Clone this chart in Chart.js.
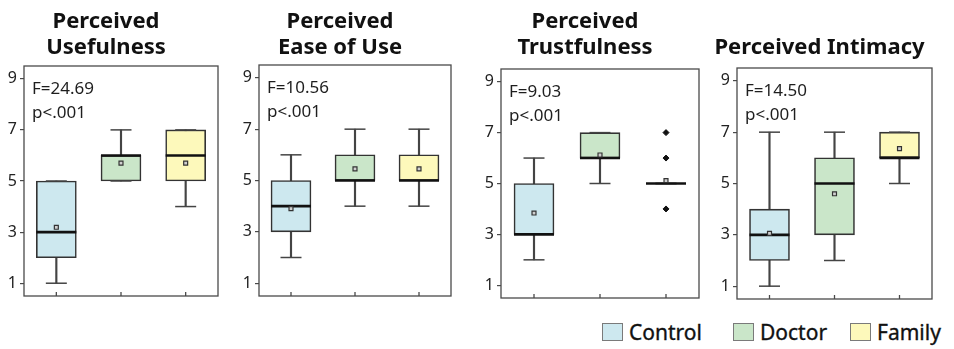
<!DOCTYPE html>
<html>
<head>
<meta charset="utf-8">
<script src="https://cdn.jsdelivr.net/npm/chart.js@4.4.1/dist/chart.umd.min.js"></script>
<style>
  body { margin: 0; background: #fff; width: 954px; height: 349px; position: relative; overflow: hidden; font-family: "Noto Sans", sans-serif; }
  .panel { position: absolute; top: 0; }
  .legend-item { position: absolute; top: 318px; display: flex; align-items: center; font-size: 21px; color: #111; -webkit-text-stroke: 0.35px #111; }
  .legend-item .sw { display: inline-block; width: 19px; height: 16px; border: 1px solid #7a7a7a; margin-right: 6px; }
</style>
</head>
<body>

<script>
// groups and panels
const groups = ['Control', 'Doctor', 'Family'];
const panelTitles = [['Perceived', 'Usefulness'], ['Perceived', 'Ease of Use'], ['Perceived', 'Trustfulness'], ['Perceived Intimacy']];
const fStats = ['F=24.69', 'F=10.56', 'F=9.03', 'F=14.50'];
const pStats = ['p<.001', 'p<.001', 'p<.001', 'p<.001'];
const yTicks = [1, 3, 5, 7, 9];

// box stats, one row per panel: [Control, Doctor, Family]
const mins    = [[1, 5, 4], [2, 4, 4], [2, 5, 5], [1, 2, 5]];
const q1s     = [[2, 5, 5], [3, 5, 5], [3, 6, 5], [2, 3, 6]];
const medians = [[3, 6, 6], [4, 5, 5], [3, 6, 5], [3, 5, 6]];
const q3s     = [[5, 6, 7], [5, 6, 6], [5, 7, 5], [4, 6, 7]];
const maxs    = [[5, 7, 7], [6, 7, 7], [6, 7, 5], [7, 7, 7]];
const means   = [[3.19, 5.7, 5.7], [3.9, 5.45, 5.45], [3.84, 6.12, 5.11], [3.06, 4.6, 6.36]];

// outliers (only Trustfulness / Family)
const outlierGroups = [[], [], ['Family', 'Family', 'Family'], []];
const outlierValues = [[], [], [4, 6, 7], []];

const boxColors = ['#cde8ef', '#cae6c9', '#fdf9bb'];
// frame of each plot area in page pixels
const frames = [
  { l: 24,  r: 218, t: 66, b: 296 },
  { l: 259, r: 451, t: 65, b: 296 },
  { l: 501, r: 699, t: 69, b: 298 },
  { l: 737, r: 932, t: 68, b: 299 },
];
const legendX = [602, 733, 850];

Chart.defaults.font.family = '"Noto Sans", sans-serif';

const framePlugin = {
  id: 'frame',
  afterDatasetsDraw(chart, args, opts) {
    const { ctx, chartArea: a, scales: { x } } = chart;
    ctx.save();
    ctx.strokeStyle = '#4a4a4a';
    ctx.lineWidth = 1.3;
    ctx.strokeRect(a.left, a.top, a.right - a.left, a.bottom - a.top);
    groups.forEach((g, j) => {
      const px = x.getPixelForValue(j);
      ctx.beginPath();
      ctx.moveTo(px, a.bottom);
      ctx.lineTo(px, a.bottom - 4);
      ctx.stroke();
    });
    ctx.font = '17px "Noto Sans"';
    ctx.fillStyle = '#1e1e1e';
    ctx.fillText(opts.f, a.left + 8, a.top + 28);
    ctx.fillText(opts.p, a.left + 8, a.top + 52);
    ctx.restore();
  }
};

panelTitles.forEach((title, i) => {
  const f = frames[i];
  const wrap = document.createElement('div');
  wrap.className = 'panel';
  wrap.style.left = (f.l - 30) + 'px';
  const canvas = document.createElement('canvas');
  canvas.width = f.r - f.l + 32;
  canvas.height = f.b + 2;
  wrap.appendChild(canvas);
  document.body.appendChild(wrap);

  const pointLine = (data, radius, color, width, order) => ({
    type: 'line', data, showLine: false, order,
    pointStyle: 'line', pointRadius: radius,
    pointBorderColor: color, pointBorderWidth: width, borderColor: color,
  });

  new Chart(canvas, {
    type: 'bar',
    data: {
      labels: groups,
      datasets: [
        {
          data: groups.map((g, j) => [mins[i][j], maxs[i][j]]),
          backgroundColor: '#444', barThickness: 1.5, grouped: false, order: 5,
        },
        {
          data: groups.map((g, j) => [q1s[i][j], q3s[i][j]]),
          backgroundColor: boxColors, borderColor: '#333', borderWidth: 1.6,
          borderSkipped: false, barThickness: 40, grouped: false, order: 4,
        },
        pointLine(mins[i], 10.5, '#444', 1.5, 3),
        pointLine(maxs[i], 10.5, '#444', 1.5, 3),
        pointLine(medians[i], 20, '#111', 2.6, 2),
        {
          type: 'line', data: means[i], showLine: false, order: 1,
          pointStyle: 'rect', pointRadius: 2.8,
          pointBackgroundColor: '#d0d0d0', pointBorderColor: '#333', pointBorderWidth: 1.2,
        },
        {
          type: 'line', showLine: false, order: 1,
          data: outlierGroups[i].map((g, k) => ({ x: g, y: outlierValues[i][k] })),
          pointStyle: 'rectRot', pointRadius: 3,
          pointBackgroundColor: '#111', pointBorderColor: '#111', pointBorderWidth: 1,
        },
      ],
    },
    options: {
      responsive: false,
      animation: false,
      events: [],
      layout: { autoPadding: false, padding: { left: 0, right: 2, top: 0, bottom: 2 } },
      plugins: {
        legend: { display: false },
        tooltip: { enabled: false },
        title: {
          display: true,
          text: title,
          color: '#111',
          font: { size: 22, weight: 'bold', lineHeight: '26px' },
          padding: { top: title.length > 1 ? 8.5 : 34.5, bottom: f.t - 60.5 },
        },
        frame: { f: fStats[i], p: pStats[i] },
      },
      scales: {
        x: { display: false },
        y: {
          min: 0.5,
          max: 9.5,
          afterBuildTicks: s => { s.ticks = yTicks.map(v => ({ value: v })); },
          afterFit: s => { s.width = 30; s.paddingTop = 0; s.paddingBottom = 0; },
          ticks: { color: '#222', font: { size: 16 }, padding: 3 },
          grid: { drawOnChartArea: false, drawTicks: true, tickLength: 4, color: '#4a4a4a', lineWidth: 1.2 },
          border: { display: false },
        },
      },
    },
    plugins: [framePlugin],
  });
});

// legend
groups.forEach((g, j) => {
  const item = document.createElement('div');
  item.className = 'legend-item';
  item.style.left = legendX[j] + 'px';
  item.innerHTML = `<span class="sw" style="background:${boxColors[j]}"></span><span>${g}</span>`;
  document.body.appendChild(item);
});
</script>
</body>
</html>
